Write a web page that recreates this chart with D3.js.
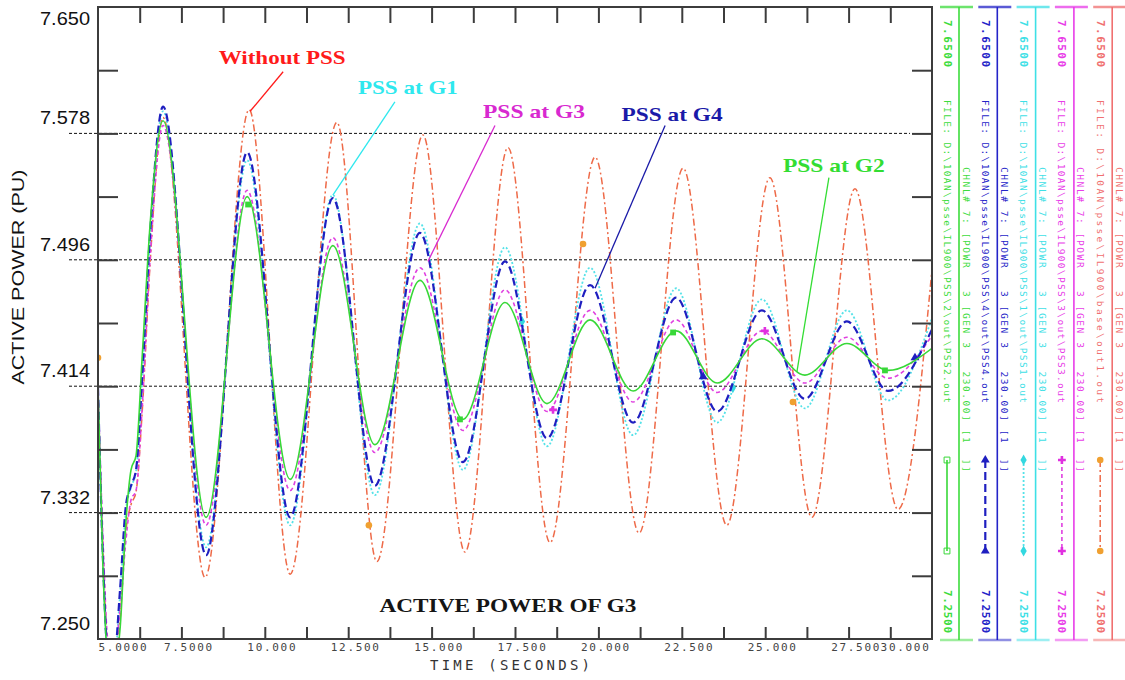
<!DOCTYPE html>
<html>
<head>
<meta charset="utf-8">
<script src="https://cdn.jsdelivr.net/npm/d3@7"></script>
<style>
  body { margin: 0; background: #fff; }
  svg { display: block; }
</style>
</head>
<body>
<div id="wrapper"></div>
<script>
// ---- data ----
// time (s) of the points for the four PSS runs
const timeGrid = [5.00, 5.15, 5.30, 5.48, 5.66, 5.84, 5.99, 6.14, 6.32, 6.56,
  6.95, 8.24, 9.47, 10.76, 12.04, 13.30, 14.65, 15.94, 17.20, 18.46,
  19.75, 21.04, 22.33, 23.56, 24.90, 26.19, 27.45, 28.68, 30.00]
// time (s) of the points for the base case
const baseTime = [5.00, 5.15, 5.30, 5.48, 5.66, 5.84, 5.99, 6.14, 6.32, 6.56,
  6.95, 8.21, 9.53, 10.76, 12.16, 13.36, 14.74, 16.00, 17.29, 18.55,
  19.90, 21.22, 22.54, 23.85, 25.14, 26.40, 27.69, 28.98, 30.00]

const withoutPss = [7.409, 7.306, 7.243, 7.237, 7.262, 7.319, 7.335, 7.343, 7.392, 7.487,
  7.580, 7.289, 7.585, 7.291, 7.577, 7.299, 7.569, 7.305, 7.561, 7.311,
  7.555, 7.317, 7.548, 7.322, 7.542, 7.327, 7.535, 7.332, 7.484]
const pssG1 = [7.409, 7.297, 7.238, 7.235, 7.278, 7.332, 7.346, 7.356, 7.411, 7.503,
  7.584, 7.308, 7.553, 7.322, 7.531, 7.341, 7.513, 7.357, 7.498, 7.372,
  7.485, 7.379, 7.472, 7.387, 7.465, 7.396, 7.458, 7.401, 7.453]
const pssG3 = [7.409, 7.313, 7.249, 7.243, 7.268, 7.313, 7.338, 7.344, 7.395, 7.490,
  7.575, 7.322, 7.534, 7.344, 7.504, 7.368, 7.485, 7.382, 7.471, 7.394,
  7.458, 7.400, 7.452, 7.406, 7.445, 7.412, 7.441, 7.415, 7.442]
const pssG4 = [7.409, 7.300, 7.240, 7.237, 7.281, 7.335, 7.347, 7.357, 7.414, 7.506,
  7.587, 7.303, 7.558, 7.327, 7.529, 7.347, 7.507, 7.362, 7.489, 7.377,
  7.474, 7.387, 7.466, 7.394, 7.458, 7.402, 7.451, 7.407, 7.446]
const pssG2 = [7.409, 7.294, 7.237, 7.234, 7.256, 7.325, 7.357, 7.366, 7.427, 7.512,
  7.578, 7.327, 7.530, 7.351, 7.499, 7.373, 7.477, 7.389, 7.463, 7.399,
  7.452, 7.407, 7.445, 7.412, 7.440, 7.417, 7.437, 7.420, 7.434]

// plot symbols along the curves [time, value]
const markBase = [[5.00, 7.428], [13.12, 7.322], [19.54, 7.500], [25.83, 7.400]]
const markG1 = [[17.71, 7.451], [24.03, 7.409]]
const markG3 = [[18.64, 7.395], [24.99, 7.445]]
const markG4 = [[23.14, 7.416], [29.49, 7.428]]
const markG2 = [[9.50, 7.525], [15.85, 7.389], [22.24, 7.444], [28.59, 7.420]]

// axis
const xTickValues = [5, 7.5, 10, 12.5, 15, 17.5, 20, 22.5, 25, 27.5, 30]
const xTickLabels = ["5.0000", "7.5000", "10.000", "12.500", "15.000", "17.500",
  "20.000", "22.500", "25.000", "27.500", "30.000"]
const yLabelText = ["7.650", "7.578", "7.496", "7.414", "7.332", "7.250"]
const yLabelAt = [7.65, 7.57, 7.49, 7.41, 7.33, 7.25]
const gridValues = [7.57, 7.49, 7.41, 7.33]

// callouts
const noteText = ["Without PSS", "PSS at G1", "PSS at G3", "PSS at G4", "PSS at G2"]
const noteAt = [[10.52, 7.618], [14.29, 7.599], [18.07, 7.584], [22.21, 7.582], [27.06, 7.550]]
const noteFrom = [[10.55, 7.609], [13.90, 7.590], [16.90, 7.575], [22.00, 7.575], [26.91, 7.542]]
const noteTo = [[9.56, 7.584], [12.04, 7.531], [14.89, 7.489], [19.90, 7.472], [25.95, 7.419]]

// legend strips (left to right)
const stripFiles = [
  "FILE: D:\\10AN\\psse\\IL900\\PSS\\2\\out\\PSS2.out",
  "FILE: D:\\10AN\\psse\\IL900\\PSS\\4\\out\\PSS4.out",
  "FILE: D:\\10AN\\psse\\IL900\\PSS\\1\\out\\PSS1.out",
  "FILE: D:\\10AN\\psse\\IL900\\PSS\\3\\out\\PSS3.out",
  "FILE: D:\\10AN\\psse\\IL900\\base\\out1.out"]
const stripChannel = "CHNL# 7: [POWR   3 [GEN 3   230.00] [1  ]]"
const stripMax = "7.6500"
const stripMin = "7.2500"

function drawChart() {
    const dimensions = {
        width: 1125,
        height: 680,
        margin: { top: 7, left: 98 },
        boundedWidth: 834,
        boundedHeight: 632,
    }

    // styles for each run
    const series = [
        { time: baseTime, values: withoutPss, marks: markBase, color: "#ee6a48", width: 1.5, dash: "7,3,2,3", symbol: d3.symbolCircle, mfill: "#f0a030" },
        { time: timeGrid, values: pssG1, marks: markG1, color: "#55e2e8", width: 1.8, dash: "2,2", symbol: d3.symbolDiamond, mfill: "#33d8e0" },
        { time: timeGrid, values: pssG3, marks: markG3, color: "#e040e0", width: 1.6, dash: "4,3", symbol: d3.symbolCross, mfill: "#e030e0" },
        { time: timeGrid, values: pssG4, marks: markG4, color: "#1f1fc0", width: 2.2, dash: "8,4", symbol: d3.symbolTriangle, mfill: "#1f1fc0" },
        { time: timeGrid, values: pssG2, marks: markG2, color: "#38d838", width: 1.6, dash: null, symbol: d3.symbolSquare, mfill: "#38d838" },
    ]
    const noteColors = ["#ff1a1a", "#2ee8ee", "#d829d0", "#1a1aa8", "#33dd33"]
    const noteLen = [127, 100, 102, 101, 102]

    const wrapper = d3.select("#wrapper")
        .append("svg")
        .attr("width", dimensions.width)
        .attr("height", dimensions.height)
        .style("background", "#fff")

    const bounds = wrapper.append("g")
        .attr("transform", `translate(${dimensions.margin.left},${dimensions.margin.top})`)

    const xScaler = d3.scaleLinear()
        .domain([5, 30])
        .range([0, dimensions.boundedWidth])
    const yScaler = d3.scaleLinear()
        .domain([7.25, 7.65])
        .range([dimensions.boundedHeight, 0])

    wrapper.append("defs").append("clipPath").attr("id", "plotClip")
        .append("rect")
        .attr("width", dimensions.boundedWidth)
        .attr("height", dimensions.boundedHeight)

    // dotted reference lines
    bounds.append("g").selectAll("line")
        .data(gridValues)
        .join("line")
        .attr("x1", -29)
        .attr("x2", 812)
        .attr("y1", d => yScaler(d))
        .attr("y2", d => yScaler(d))
        .attr("stroke", "#111")
        .attr("stroke-width", 1)
        .attr("stroke-dasharray", "3,2")

    // curves
    const lineGen = d3.line()
        .x(d => xScaler(d[0]))
        .y(d => yScaler(d[1]))
        .curve(d3.curveMonotoneX)

    const curves = bounds.append("g").attr("clip-path", "url(#plotClip)")
    series.forEach(s => {
        const pts = s.time.map((t, i) => [t, s.values[i]])
        curves.append("path")
            .attr("d", lineGen(pts))
            .attr("fill", "none")
            .attr("stroke", s.color)
            .attr("stroke-width", s.width)
            .attr("stroke-dasharray", s.dash)
        curves.append("g").selectAll("path")
            .data(s.marks)
            .join("path")
            .attr("transform", d => `translate(${xScaler(d[0])},${yScaler(d[1])})`)
            .attr("d", d3.symbol().type(s.symbol).size(34))
            .attr("fill", s.mfill)
    })

    // frame
    bounds.append("rect")
        .attr("width", dimensions.boundedWidth)
        .attr("height", dimensions.boundedHeight)
        .attr("fill", "none")
        .attr("stroke", "#3c3c3c")
        .attr("stroke-width", 2)

    const minorX = d3.range(1, 20).map(i => 5 + i * 1.25)
    const minorY = d3.range(1, 10).map(i => 7.25 + i * 0.04)
    const styleTicks = g => {
        g.select(".domain").remove()
        g.selectAll("line").attr("stroke", "#3c3c3c").attr("stroke-width", 2)
        g.selectAll("text").remove()
    }
    bounds.append("g").call(d3.axisTop(xScaler).tickValues(minorX).tickSize(-16)).call(styleTicks)
    bounds.append("g").attr("transform", `translate(0,${dimensions.boundedHeight})`)
        .call(d3.axisBottom(xScaler).tickValues(minorX).tickSize(-12)).call(styleTicks)
    bounds.append("g").call(d3.axisLeft(yScaler).tickValues(minorY).tickSize(-20)).call(styleTicks)
    bounds.append("g").attr("transform", `translate(${dimensions.boundedWidth},0)`)
        .call(d3.axisRight(yScaler).tickValues(minorY).tickSize(-20)).call(styleTicks)

    // x tick labels
    const xAxis = bounds.append("g")
        .attr("transform", `translate(0,${dimensions.boundedHeight})`)
        .call(d3.axisBottom(xScaler).tickValues(xTickValues).tickSize(0).tickPadding(4)
            .tickFormat((d, i) => xTickLabels[i]))
    xAxis.select(".domain").remove()
    xAxis.selectAll("text")
        .attr("font-family", "DejaVu Sans Mono")
        .attr("font-size", 11)
        .attr("letter-spacing", 1.7)
        .attr("fill", "#444")
        .attr("dx", 7)
    xAxis.selectAll("text").filter((d, i) => i === 0).attr("text-anchor", "start").attr("dx", 0)
    xAxis.selectAll("text").filter((d, i) => i === xTickValues.length - 1).attr("text-anchor", "end").attr("dx", -2)

    bounds.append("text")
        .attr("x", xScaler(17.35))
        .attr("y", dimensions.boundedHeight + 31)
        .attr("text-anchor", "middle")
        .attr("font-family", "DejaVu Sans Mono")
        .attr("font-size", 14)
        .attr("fill", "#333")
        .attr("textLength", 160)
        .attr("lengthAdjust", "spacing")
        .text("TIME (SECONDS)")

    // y labels written beside the frame
    bounds.append("g").selectAll("text")
        .data(yLabelText)
        .join("text")
        .attr("x", -8)
        .attr("y", (d, i) => i === 0 ? yScaler(yLabelAt[i]) + 18 : yScaler(yLabelAt[i]) - 9)
        .attr("text-anchor", "end")
        .attr("font-family", "Liberation Sans, Arial, sans-serif")
        .attr("font-size", 18)
        .attr("fill", "#111")
        .attr("textLength", 50)
        .attr("lengthAdjust", "spacingAndGlyphs")
        .text(d => d)

    wrapper.append("text")
        .attr("transform", "translate(18,277) rotate(-90)")
        .attr("text-anchor", "middle")
        .attr("dominant-baseline", "central")
        .attr("font-family", "Liberation Sans, Arial, sans-serif")
        .attr("font-size", 17)
        .attr("fill", "#111")
        .attr("textLength", 215)
        .attr("lengthAdjust", "spacingAndGlyphs")
        .text("ACTIVE POWER (PU)")

    // callouts
    const notes = bounds.append("g")
    noteText.forEach((txt, i) => {
        notes.append("line")
            .attr("x1", xScaler(noteFrom[i][0]))
            .attr("y1", yScaler(noteFrom[i][1]))
            .attr("x2", xScaler(noteTo[i][0]))
            .attr("y2", yScaler(noteTo[i][1]))
            .attr("stroke", noteColors[i])
            .attr("stroke-width", 1.3)
        notes.append("text")
            .attr("x", xScaler(noteAt[i][0]))
            .attr("y", yScaler(noteAt[i][1]))
            .attr("dy", "0.35em")
            .attr("text-anchor", "middle")
            .attr("font-family", "Liberation Serif, Times New Roman, serif")
            .attr("font-weight", "bold")
            .attr("font-size", 19)
            .attr("fill", noteColors[i])
            .attr("textLength", noteLen[i])
            .attr("lengthAdjust", "spacingAndGlyphs")
            .text(txt)
    })

    bounds.append("text")
        .attr("x", xScaler(17.29))
        .attr("y", yScaler(7.271))
        .attr("dy", "0.35em")
        .attr("text-anchor", "middle")
        .attr("font-family", "Liberation Serif, Times New Roman, serif")
        .attr("font-weight", "bold")
        .attr("font-size", 18)
        .attr("fill", "#151515")
        .attr("textLength", 257)
        .attr("lengthAdjust", "spacingAndGlyphs")
        .text("ACTIVE POWER OF G3")

    // legend strips on the right
    const stripOrder = [4, 3, 1, 2, 0]
    const stripColors = ["#3ddc3d", "#2424c8", "#3ee0e6", "#e83ce8", "#f07070"]
    const strips = wrapper.append("g").selectAll("g")
        .data(stripOrder)
        .join("g")
        .attr("transform", (d, i) => `translate(${940 + i * 38.3},0)`)

    strips.each(function (si, i) {
        const g = d3.select(this)
        const col = stripColors[i]
        const s = series[si]
        g.append("line").attr("x1", 0).attr("x2", 33).attr("y1", 7).attr("y2", 7)
            .attr("stroke", col).attr("stroke-width", 2.5).attr("opacity", 0.75)
        g.append("line").attr("x1", 0).attr("x2", 33).attr("y1", 640).attr("y2", 640)
            .attr("stroke", col).attr("stroke-width", 2.5).attr("opacity", 0.5)
        g.append("line").attr("x1", 19).attr("x2", 19).attr("y1", 7).attr("y2", 640)
            .attr("stroke", col).attr("stroke-width", 1.6)

        const rot = (x, y, txt, size, weight, len) => {
            const t = g.append("text")
                .attr("transform", `translate(${x},${y}) rotate(90)`)
                .attr("dominant-baseline", "central")
                .attr("font-family", "DejaVu Sans Mono")
                .attr("font-size", size)
                .attr("font-weight", weight)
                .attr("fill", col)
                .style("white-space", "pre")
                .text(txt)
            if (len) t.attr("textLength", len).attr("lengthAdjust", "spacing")
        }
        rot(7, 20, stripMax, 11, "bold", 47)
        rot(7, 100, stripFiles[i], 9.5, "normal", 303)
        rot(26, 167, stripChannel, 9.5, "normal", 305)
        rot(7, 590, stripMin, 11, "bold", 43)

        // line sample with its symbols
        g.append("line").attr("x1", 7).attr("x2", 7).attr("y1", 460).attr("y2", 551)
            .attr("stroke", s.color).attr("stroke-width", s.width)
            .attr("stroke-dasharray", s.dash)
        g.selectAll(".sym").data([460, 551]).join("path")
            .attr("transform", d => `translate(7,${d})`)
            .attr("d", d3.symbol().type(s.symbol).size(34))
            .attr("fill", si === 4 ? "none" : s.mfill)
            .attr("stroke", si === 4 ? s.color : "none")
    })
}

drawChart()
</script>
</body>
</html>
